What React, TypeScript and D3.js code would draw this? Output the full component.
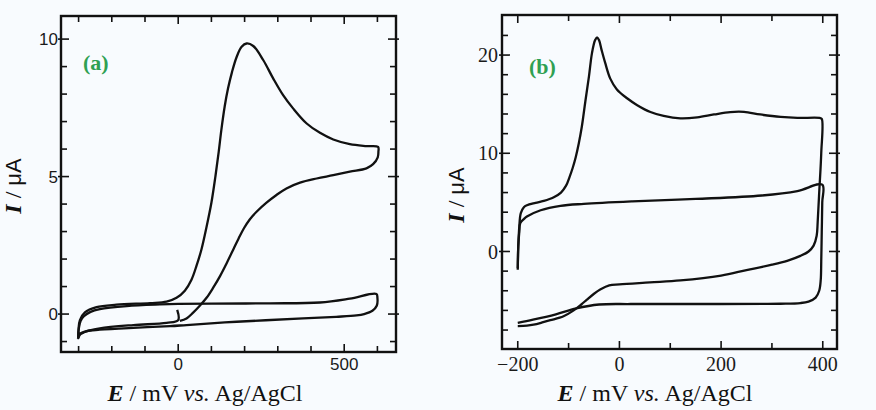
import React from "react";
import * as d3 from "d3";

// ---------- Panel (a) data ----------
const aScanE = [-3, 0, -35, -135, -236, -276, -296, -301, -300, -296, -281, -246, -186, -85, -35, -5, 20, 40, 55, 70, 85, 100, 112, 122, 130, 140, 150, 162, 176, 191, 206, 226, 256, 286, 316, 346, 387, 427, 467, 517, 567, 602, 603, 601, 587, 567, 517, 467, 417, 367, 326, 296, 266, 236, 216, 198, 182, 166, 146, 126, 105, 86, 65, 45, 25, 5];
const aScanI = [0.15, -0.22, -0.32, -0.4, -0.52, -0.63, -0.75, -0.88, -0.52, -0.22, 0.06, 0.25, 0.34, 0.4, 0.45, 0.59, 0.85, 1.25, 1.75, 2.35, 3.15, 4.05, 5.0, 5.9, 6.7, 7.55, 8.2, 8.8, 9.35, 9.72, 9.84, 9.75, 9.24, 8.57, 7.96, 7.48, 6.93, 6.59, 6.35, 6.18, 6.11, 6.08, 5.9, 5.7, 5.45, 5.3, 5.18, 5.05, 4.93, 4.78, 4.57, 4.33, 4.05, 3.72, 3.45, 3.12, 2.75, 2.35, 1.85, 1.38, 0.95, 0.6, 0.3, 0.05, -0.16, -0.25];
const aBlankE = [-301, -299, -294, -284, -264, -236, -155, -55, 0, 100, 276, 427, 517, 597, 600, 598, 585, 560, 537, 476, 376, 176, 25, -25, -135, -236, -276, -296, -302];
const aBlankI = [-0.85, -0.5, -0.25, -0.08, 0.08, 0.18, 0.29, 0.35, 0.37, 0.38, 0.39, 0.42, 0.56, 0.73, 0.6, 0.3, 0.12, 0.0, -0.05, -0.1, -0.16, -0.28, -0.4, -0.44, -0.5, -0.57, -0.62, -0.72, -0.9];
const aXMajor = [0, 500];
const aXMinor = [-300, -200, -100, 100, 200, 300, 400, 600];
const aYMajor = [0, 5, 10];
const aYMinor = [-1, 1, 2, 3, 4, 6, 7, 8, 9];

// ---------- Panel (b) data ----------
const bScanE = [-200, -199, -197, -194, -188, -182, -165, -149, -130, -115, -105, -98, -92, -86, -80, -74, -67, -60, -54, -48, -44, -40, -35, -28, -18, -5, 15, 35, 61, 87, 120, 153, 186, 218, 245, 277, 317, 350, 394, 398, 397, 393, 390, 388, 382, 372, 356, 330, 300, 250, 200, 120, 60, 0, -20, -37, -50, -64, -75, -90, -110, -136, -150, -169, -182, -200];
const bScanI = [-1.86, 0.5, 2.5, 3.9, 4.5, 4.7, 4.95, 5.15, 5.5, 6.0, 6.7, 7.6, 8.5, 9.6, 11.0, 12.7, 15.3, 17.8, 20.2, 21.5, 21.8, 21.5, 20.5, 19.2, 17.6, 16.5, 15.6, 14.9, 14.2, 13.8, 13.55, 13.65, 13.95, 14.2, 14.22, 13.95, 13.7, 13.6, 13.6, 13.5, 10, 6, 3, 1.6, 0.6, 0.0, -0.45, -0.95, -1.35, -1.9, -2.45, -2.95, -3.15, -3.35, -3.45, -3.85, -4.3, -4.9, -5.4, -6.0, -6.6, -7.0, -7.2, -7.45, -7.55, -7.6];
const bBlankE = [-200, -199, -197, -195, -188, -182, -155, -116, -70, 25, 150, 280, 350, 399, 399, 398, 397, 396, 393, 386, 372, 356, 317, 153, 22, -40, -85, -125, -170, -200];
const bBlankI = [-1.7, 0.5, 2.0, 2.9, 3.3, 3.56, 4.2, 4.65, 4.85, 5.1, 5.35, 5.7, 6.15, 6.8, 5.0, 2.0, -1.0, -2.9, -4.0, -4.7, -5.1, -5.25, -5.32, -5.35, -5.35, -5.4, -5.8, -6.4, -6.95, -7.27];
const bXMajor = [-200, 0, 200, 400];
const bXMinor = [-100, 100, 300];
const bYMajor = [0, 10, 20];
const bYMinor = [-8, -6, -4, -2, 2, 4, 6, 8, 12, 14, 16, 18, 22];

const zip = (e: number[], i: number[]) => e.map((v, k) => [v, i[k]] as [number, number]);

type PanelProps = {
  frame: { x0: number; x1: number; y0: number; y1: number };
  xDomain: [number, number];
  yDomain: [number, number];
  series: [number, number][][];
  xMajor: number[];
  xMinor: number[];
  yMajor: number[];
  yMinor: number[];
  tickFont: string;
  tickSize: number;
  fmt: (v: number) => string;
  letter: string;
  letterPos: [number, number];
  xTitle: [number, number];
  yTitle: [number, number];
  xLabelBase: number;
  yLabelEnd: number;
};

function Panel(p: PanelProps) {
  const { x0, x1, y0, y1 } = p.frame;
  const x = d3.scaleLinear().domain(p.xDomain).range([x0, x1]);
  const y = d3.scaleLinear().domain(p.yDomain).range([y1, y0]);
  const line = d3
    .line<[number, number]>()
    .x((d) => x(d[0]))
    .y((d) => y(d[1]))
    .curve(d3.curveCatmullRom.alpha(0.5));
  const ink = "#111";
  return (
    <g>
      {p.series.map((s, k) => (
        <path key={k} d={line(s) || ""} fill="none" stroke={ink} strokeWidth={2.3} strokeLinejoin="round" />
      ))}
      {[...p.xMajor.map((v) => [v, 8]), ...p.xMinor.map((v) => [v, 6])].map(([v, L], k) => (
        <g key={"xt" + k}>
          <line x1={x(v)} x2={x(v)} y1={y1} y2={y1 - L} stroke={ink} strokeWidth={1.6} />
          <line x1={x(v)} x2={x(v)} y1={y0} y2={y0 + L} stroke={ink} strokeWidth={1.6} />
        </g>
      ))}
      {[...p.yMajor.map((v) => [v, 8, 3]), ...p.yMinor.map((v) => [v, 6, 0])].map(([v, L, O], k) => (
        <g key={"yt" + k}>
          <line x1={x0 - O} x2={x0 + L} y1={y(v)} y2={y(v)} stroke={ink} strokeWidth={1.6} />
          <line x1={x1 + O} x2={x1 - L} y1={y(v)} y2={y(v)} stroke={ink} strokeWidth={1.6} />
        </g>
      ))}
      <rect x={x0} y={y0} width={x1 - x0} height={y1 - y0} fill="none" stroke={ink} strokeWidth={2.4} />
      {p.xMajor.map((v) => (
        <text key={"xl" + v} x={x(v)} y={p.xLabelBase} textAnchor="middle" fontFamily={p.tickFont} fontSize={p.tickSize} fill="#1a1a1a">
          {p.fmt(v)}
        </text>
      ))}
      {p.yMajor.map((v) => (
        <text key={"yl" + v} x={p.yLabelEnd} y={y(v)} dy="0.36em" textAnchor="end" fontFamily={p.tickFont} fontSize={p.tickSize} fill="#1a1a1a">
          {p.fmt(v)}
        </text>
      ))}
      <text x={p.letterPos[0]} y={p.letterPos[1]} fontFamily="'Liberation Serif', serif" fontWeight="bold" fontSize={22} fill="#2fa052">
        {p.letter}
      </text>
      <text x={p.xTitle[0]} y={p.xTitle[1]} textAnchor="middle" fontFamily="'Liberation Serif', serif" fontSize={24} fill={ink}>
        <tspan fontWeight="bold" fontStyle="italic">E</tspan>
        <tspan> / mV </tspan>
        <tspan fontStyle="italic">vs.</tspan>
        <tspan> Ag/AgCl</tspan>
      </text>
      <text transform={`translate(${p.yTitle[0]},${p.yTitle[1]}) rotate(-90)`} textAnchor="middle" fontFamily="'Liberation Serif', serif" fontSize={24} fill={ink}>
        <tspan fontWeight="bold" fontStyle="italic">I</tspan>
        <tspan> / </tspan>
        <tspan fontFamily="'Liberation Sans', Arial, sans-serif" fontSize={22}>μA</tspan>
      </text>
    </g>
  );
}

export default function App() {
  const minus = (v: number) => (v < 0 ? "\u2212" + Math.abs(v) : String(v));
  return (
    <svg width={876} height={410} style={{ position: "absolute", left: 0, top: 0 }}>
      <rect x={0} y={0} width={876} height={410} fill="#f8fbfe" />
      <Panel
        frame={{ x0: 61, x1: 396, y0: 16, y1: 352 }}
        xDomain={[-353, 656]}
        yDomain={[-1.38, 10.84]}
        series={[zip(aBlankE, aBlankI), zip(aScanE, aScanI)]}
        xMajor={aXMajor}
        xMinor={aXMinor}
        yMajor={aYMajor}
        yMinor={aYMinor}
        tickFont="'Liberation Sans', Arial, sans-serif"
        tickSize={17}
        fmt={(v) => String(v)}
        letter="(a)"
        letterPos={[83, 70]}
        xTitle={[205, 401]}
        yTitle={[21, 186]}
        xLabelBase={370}
        yLabelEnd={58}
      />
      <Panel
        frame={{ x0: 502, x1: 837, y0: 15, y1: 349 }}
        xDomain={[-231, 428]}
        yDomain={[-9.93, 24.08]}
        series={[zip(bBlankE, bBlankI), zip(bScanE, bScanI)]}
        xMajor={bXMajor}
        xMinor={bXMinor}
        yMajor={bYMajor}
        yMinor={bYMinor}
        tickFont="'Liberation Serif', serif"
        tickSize={20}
        fmt={minus}
        letter="(b)"
        letterPos={[529, 74]}
        xTitle={[655, 401]}
        yTitle={[464, 195]}
        xLabelBase={371}
        yLabelEnd={498}
      />
    </svg>
  );
}
